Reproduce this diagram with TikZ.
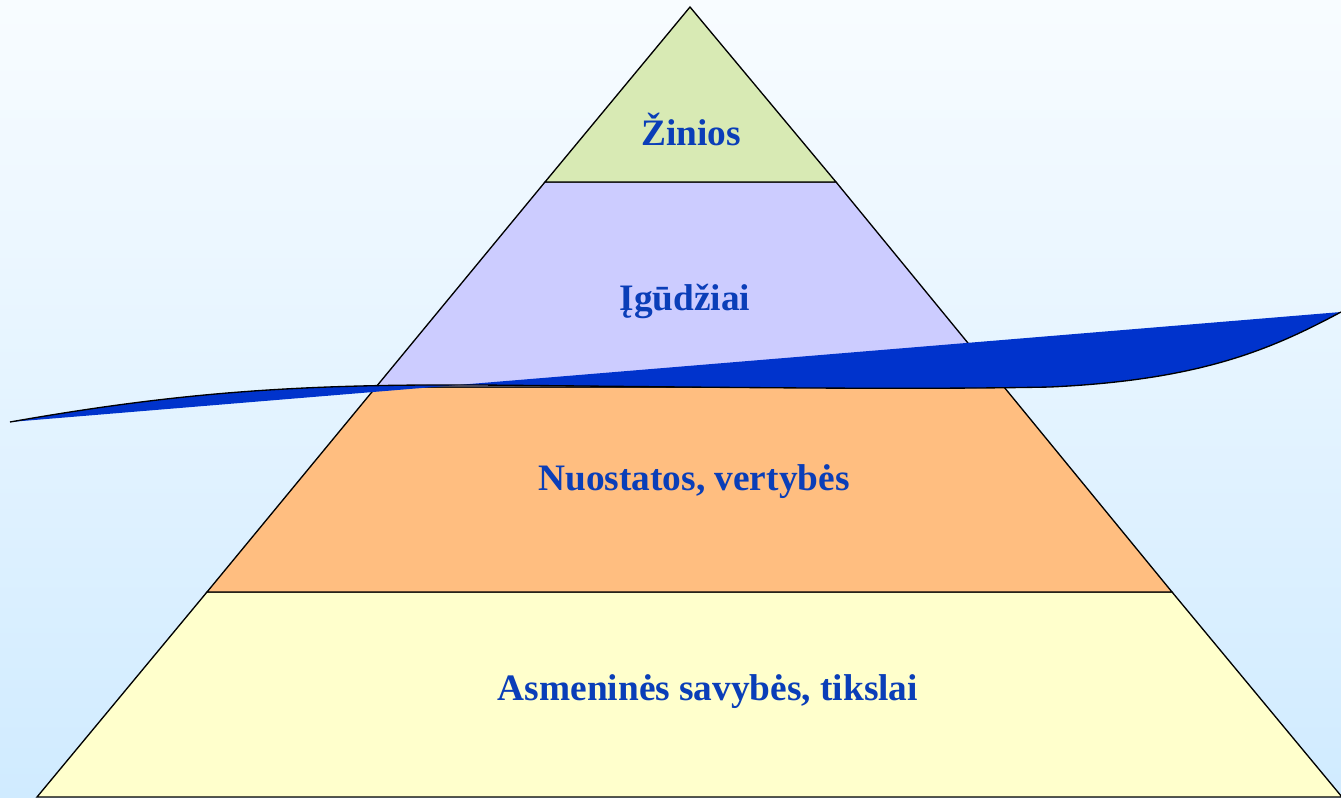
\documentclass[tikz,border=0pt]{standalone}
\usepackage{fontspec}
\setmainfont{Liberation Serif}
\definecolor{bgtop}{RGB}{248,252,255}
\definecolor{bgbot}{RGB}{208,235,255}
\definecolor{zinfill}{RGB}{216,234,180}
\definecolor{igufill}{RGB}{204,204,255}
\definecolor{nuofill}{RGB}{255,190,128}
\definecolor{asmfill}{RGB}{255,255,204}
\definecolor{wavefill}{RGB}{0,51,204}
\definecolor{lbltext}{RGB}{10,62,184}
\begin{document}
\begin{tikzpicture}[x=0.75pt,y=0.75pt,yscale=-1,xscale=1,
  layer/.style={draw=black,line width=1pt,line join=miter},
  lbl/.style={anchor=base,text=lbltext,font=\bfseries\fontsize{28}{32}\selectfont}]
\useasboundingbox (0,0) rectangle (1341,797);

%Background
\shade[top color=bgtop,bottom color=bgbot] (0,0) rectangle (1341,797);

%Shape: Trapezium [id:asm]
\draw [layer,fill=asmfill] (207,592) -- (1172,592) -- (1342,797) -- (37,797) -- cycle ;
%Shape: Trapezium [id:nuo]
\draw [layer,fill=nuofill] (376,387) -- (1004,387) -- (1172,592) -- (207,592) -- cycle ;
%Shape: Trapezium [id:igu]
\draw [layer,fill=igufill] (545,182) -- (836,182) -- (1004,387) -- (376,387) -- cycle ;
%Shape: Triangle [id:zin]
\draw [layer,fill=zinfill] (690,7) -- (836,182) -- (545,182) -- cycle ;

%Shape: Wave [id:wave]
\fill [wavefill] (10,422) .. controls (180,392) and (300,384) .. (480,385)
  .. controls (700,387) and (900,390) .. (1050,387)
  .. controls (1200,380) and (1270,350) .. (1341,312) -- cycle ;
%Curve Lines [id:waveedge]
\draw [line width=1pt] (10,422) .. controls (180,392) and (300,384) .. (480,385)
  .. controls (700,387) and (900,390) .. (1050,387)
  .. controls (1200,380) and (1270,350) .. (1341,312) ;

% Text Node
\node [lbl] (zinios) at (691,145) {Žinios};
% Text Node
\node [lbl] (igudziai) at (685,310) {Įgūdžiai};
% Text Node
\node [lbl] (nuostatos) at (694,490) {Nuostatos, vertybės};
% Text Node
\node [lbl] (asmenines) at (708,700) {Asmeninės savybės, tikslai};

\end{tikzpicture}
\end{document}
